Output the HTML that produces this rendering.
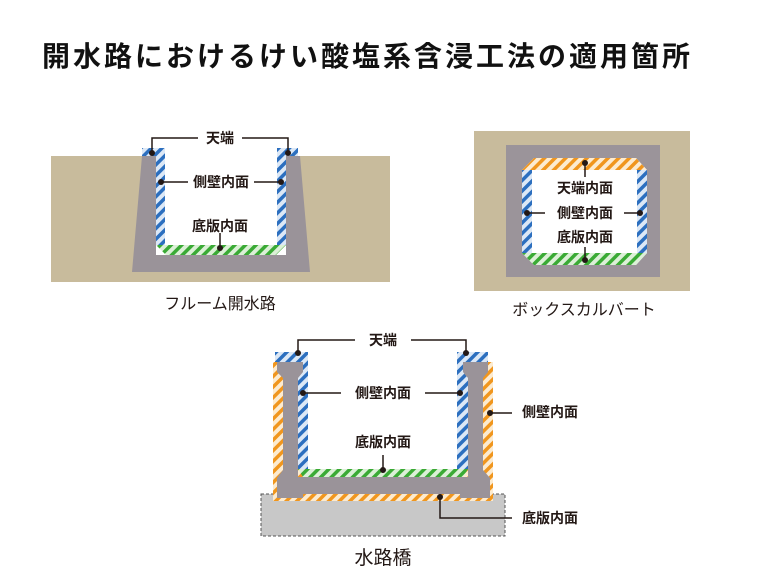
<!DOCTYPE html>
<html><head><meta charset="utf-8"><style>
body{margin:0;background:#fff;}
svg{display:block;}
text{font-family:"Liberation Sans","Noto Sans CJK JP",sans-serif;}
.l{font-size:14px;font-weight:bold;fill:#231815;text-anchor:middle;}
.c{font-size:16px;fill:#231815;text-anchor:middle;}
</style></head><body>
<svg width="780" height="585" viewBox="0 0 780 585" xmlns="http://www.w3.org/2000/svg">
<defs>
<pattern id="hb" width="7.5" height="7.5" patternUnits="userSpaceOnUse" patternTransform="rotate(45)"><rect width="7.5" height="7.5" fill="#dce8f6"/><rect width="3.5" height="7.5" fill="#2c6fbf"/></pattern>
<pattern id="hg" width="7.5" height="7.5" patternUnits="userSpaceOnUse" patternTransform="rotate(45)"><rect width="7.5" height="7.5" fill="#dcf0d7"/><rect width="3.5" height="7.5" fill="#3aaa35"/></pattern>
<pattern id="ho" width="7.5" height="7.5" patternUnits="userSpaceOnUse" patternTransform="rotate(45)"><rect width="7.5" height="7.5" fill="#fcebd0"/><rect width="3.5" height="7.5" fill="#f0961e"/></pattern>
</defs>
<text x="42" y="66" font-size="28" font-weight="bold" letter-spacing="3" fill="#111">開水路におけるけい酸塩系含浸工法の適用箇所</text>

<!-- Flume -->
<rect x="51" y="156" width="339" height="126" fill="#c8bb9c"/>
<polygon points="142,148 165,148 165,156 142,156" fill="url(#hb)"/>
<polygon points="277,148 298,148 298,156 277,156" fill="url(#hb)"/>
<polygon points="142,156 156,156 156,245 166,255 276,255 286,245 286,156 300,156 310,272 132,272" fill="#9a9399"/>
<rect x="156" y="148" width="130" height="107" fill="#fff"/>
<rect x="156" y="148" width="9" height="97" fill="url(#hb)"/>
<rect x="277" y="148" width="9" height="97" fill="url(#hb)"/>
<polygon points="156,245 286,245 276,255 166,255" fill="url(#hg)"/>
<g stroke="#231815" stroke-width="1.5" fill="none">
<polyline points="152,153 152,138 198,138"/><polyline points="242,138 288,138 288,153"/>
<line x1="161" y1="182" x2="188" y2="182"/><line x1="254" y1="182" x2="281" y2="182"/>
<line x1="220" y1="233" x2="220" y2="248"/>
</g>
<g fill="#231815"><circle cx="152" cy="153" r="3"/><circle cx="288" cy="153" r="3"/><circle cx="161" cy="182" r="3"/><circle cx="281" cy="182" r="3"/><circle cx="220" cy="248" r="3"/></g>
<text class="l" x="220" y="143">天端</text>
<text class="l" x="221" y="187">側壁内面</text>
<text class="l" x="220" y="231">底版内面</text>
<text class="c" x="220" y="309">フルーム開水路</text>

<!-- Box culvert -->
<rect x="474" y="131" width="216" height="160" fill="#c8bb9c"/>
<rect x="506" y="145" width="154" height="132" fill="#9b949a"/>
<polygon points="534,158 636,158 647,170 647,253 636,265 534,265 522,253 522,170" fill="#fff"/>
<polygon points="534,158 636,158 647,170 522,170" fill="url(#ho)"/>
<polygon points="522,253 647,253 636,265 534,265" fill="url(#hg)"/>
<rect x="522" y="170" width="10" height="83" fill="url(#hb)"/>
<rect x="637" y="170" width="10" height="83" fill="url(#hb)"/>
<g stroke="#231815" stroke-width="1.5"><line x1="585" y1="163" x2="585" y2="177"/><line x1="585" y1="247" x2="585" y2="260"/><line x1="527" y1="213" x2="545" y2="213"/><line x1="624" y1="213" x2="640" y2="213"/></g>
<g fill="#231815"><circle cx="585" cy="163" r="3"/><circle cx="585" cy="260" r="3"/><circle cx="527" cy="213" r="3"/><circle cx="640" cy="213" r="3"/></g>
<text class="l" x="585" y="193">天端内面</text>
<text class="l" x="585" y="218">側壁内面</text>
<text class="l" x="585" y="242">底版内面</text>
<text class="c" x="584" y="315">ボックスカルバート</text>

<!-- Aqueduct bridge -->
<rect x="261" y="494" width="244" height="42" fill="#c8c8c8" stroke="#555" stroke-width="1" stroke-dasharray="3,2"/>
<rect x="273" y="362" width="220" height="139" fill="url(#ho)"/>
<polygon points="275,352 308,352 308,469 298,469 298,378 303,372 303,362 275,362" fill="url(#hb)"/>
<polygon points="457,352 488,352 488,362 463,362 463,372 468,378 468,469 457,469" fill="url(#hb)"/>
<polygon points="277,362 303,362 303,372 298,378 298,477 468,477 468,378 463,372 463,362 488,362 488,372 483,378 483,470 490,478 490,498 460,498 460,494 303,494 303,498 277,498 277,478 283,470 283,378 277,372" fill="#9a9399"/>
<rect x="308" y="352" width="149" height="117" fill="#fff"/>
<rect x="298" y="378" width="10" height="91" fill="url(#hb)"/>
<rect x="457" y="378" width="11" height="91" fill="url(#hb)"/>
<polygon points="298,469 468,469 463,477 303,477" fill="url(#hg)"/>
<g stroke="#231815" stroke-width="1.5" fill="none">
<polyline points="298,353 298,340 355,340"/><polyline points="411,340 466,340 466,353"/>
<line x1="303" y1="393" x2="341" y2="393"/><line x1="425" y1="393" x2="460" y2="393"/>
<line x1="383" y1="455" x2="383" y2="470"/>
<line x1="490" y1="413" x2="512" y2="413"/>
<polyline points="440,497 440,518 512,518"/>
</g>
<g fill="#231815"><circle cx="298" cy="353" r="3"/><circle cx="466" cy="353" r="3"/><circle cx="303" cy="393" r="3"/><circle cx="460" cy="393" r="3"/><circle cx="383" cy="470" r="3"/><circle cx="490" cy="413" r="3"/><circle cx="440" cy="497" r="3"/></g>
<text class="l" x="383" y="345">天端</text>
<text class="l" x="383" y="398">側壁内面</text>
<text class="l" x="383" y="447">底版内面</text>
<text class="l" x="550" y="417">側壁内面</text>
<text class="l" x="550" y="523">底版内面</text>
<text class="c" x="383" y="564" style="font-size:19px">水路橋</text>
</svg>
</body></html>
